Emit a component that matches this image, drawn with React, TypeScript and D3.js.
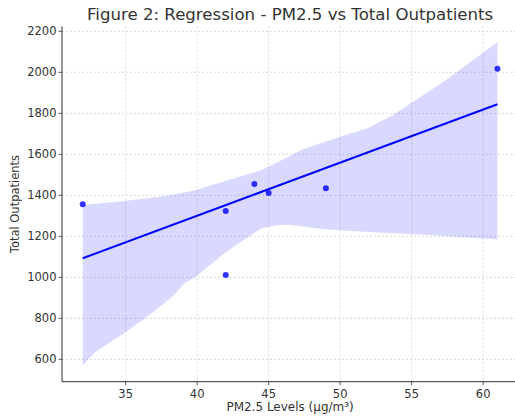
import React, { useRef, useEffect } from "react";
import * as d3 from "d3";

// observed points
export const pm25 = [32, 42, 42, 44, 45, 49, 61];
export const outpatients = [1357, 1323, 1011, 1455, 1411, 1435, 2017];

// confidence band edges
export const upperX = [32, 34.9, 38.2, 39.9, 42.2, 44.5, 46, 47.4, 50, 51.9, 53.7, 55.1, 57.4, 59.3, 61];
export const upperY = [1353, 1372, 1401, 1426, 1475, 1523, 1575, 1625, 1686, 1727, 1792, 1857, 1962, 2060, 2148];
export const lowerX = [32, 32.9, 34.9, 36.8, 38.4, 39.1, 39.9, 41.9, 43.6, 44.5, 45.7, 46.6, 48.8, 52.8, 56.3, 61];
export const lowerY = [570, 637, 727, 824, 914, 971, 1003, 1117, 1198, 1239, 1255, 1255, 1234, 1218, 1206, 1185];

export const xTicks = [35, 40, 45, 50, 55, 60];
export const yTicks = [600, 800, 1000, 1200, 1400, 1600, 1800, 2000, 2200];

const App = () => {
  const ref = useRef<SVGSVGElement>(null);

  useEffect(() => {
    const width = 515;
    const height = 416;
    const left = 62;
    const right = 518.2;
    const top = 26.4;
    const bottom = 381.7;

    const svg = d3.select(ref.current).attr("width", width).attr("height", height);
    svg.selectAll("*").remove();

    const x = d3.scaleLinear().domain([30.55, 62.45]).range([left, right]);
    const y = d3.scaleLinear().domain([491, 2224]).range([bottom, top]);

    const font = "DejaVu Sans, sans-serif";

    // grid
    const grid = svg.append("g");
    grid
      .selectAll("line.vx")
      .data(xTicks)
      .enter()
      .append("line")
      .attr("x1", (d) => x(d))
      .attr("x2", (d) => x(d))
      .attr("y1", top)
      .attr("y2", bottom)
      .attr("stroke", "#d0d0d0")
      .attr("stroke-width", 0.8)
      .attr("stroke-dasharray", "2,2");
    grid
      .selectAll("line.hy")
      .data(yTicks)
      .enter()
      .append("line")
      .attr("x1", left)
      .attr("x2", width)
      .attr("y1", (d) => y(d))
      .attr("y2", (d) => y(d))
      .attr("stroke", "#d0d0d0")
      .attr("stroke-width", 0.8)
      .attr("stroke-dasharray", "2,2");

    // confidence band
    const bandPts: [number, number][] = [
      ...upperX.map((d, i) => [x(d), y(upperY[i])] as [number, number]),
      ...lowerX
        .map((d, i) => [x(d), y(lowerY[i])] as [number, number])
        .reverse(),
    ];
    svg
      .append("path")
      .attr("d", d3.line()(bandPts) + "Z")
      .attr("fill", "#0000ff")
      .attr("fill-opacity", 0.15)
      .attr("stroke", "none");

    // regression line
    const mx = d3.mean(pm25) as number;
    const my = d3.mean(outpatients) as number;
    const sxy = d3.sum(pm25, (d, i) => (d - mx) * (outpatients[i] - my));
    const sxx = d3.sum(pm25, (d) => (d - mx) * (d - mx));
    const slope = sxy / sxx;
    const icept = my - slope * mx;
    const x0 = d3.min(pm25) as number;
    const x1 = d3.max(pm25) as number;
    svg
      .append("line")
      .attr("x1", x(x0))
      .attr("y1", y(icept + slope * x0))
      .attr("x2", x(x1))
      .attr("y2", y(icept + slope * x1))
      .attr("stroke", "#0000ff")
      .attr("stroke-width", 2);

    // points
    svg
      .selectAll("circle")
      .data(pm25)
      .enter()
      .append("circle")
      .attr("cx", (d) => x(d))
      .attr("cy", (d, i) => y(outpatients[i]))
      .attr("r", 3)
      .attr("fill", "#0000ff")
      .attr("fill-opacity", 0.8);

    // spines
    svg
      .append("line")
      .attr("x1", left)
      .attr("x2", left)
      .attr("y1", top)
      .attr("y2", bottom)
      .attr("stroke", "#333333")
      .attr("stroke-width", 1);
    svg
      .append("line")
      .attr("x1", left)
      .attr("x2", width)
      .attr("y1", bottom)
      .attr("y2", bottom)
      .attr("stroke", "#333333")
      .attr("stroke-width", 1);

    // x ticks
    const xt = svg
      .selectAll("g.xt")
      .data(xTicks)
      .enter()
      .append("g")
      .attr("transform", (d) => `translate(${x(d)},${bottom})`);
    xt.append("line").attr("y2", 3.5).attr("stroke", "#333333").attr("stroke-width", 0.8);
    xt.append("text")
      .attr("y", 16)
      .attr("text-anchor", "middle")
      .style("font-family", font)
      .style("font-size", "11.5px")
      .attr("fill", "#333333")
      .text((d) => d);

    // y ticks
    const yt = svg
      .selectAll("g.yt")
      .data(yTicks)
      .enter()
      .append("g")
      .attr("transform", (d) => `translate(${left},${y(d)})`);
    yt.append("line").attr("x2", -3.5).attr("stroke", "#333333").attr("stroke-width", 0.8);
    yt.append("text")
      .attr("x", -5.5)
      .attr("dy", "0.35em")
      .attr("text-anchor", "end")
      .style("font-family", font)
      .style("font-size", "11.5px")
      .attr("fill", "#333333")
      .text((d) => d);

    // labels
    svg
      .append("text")
      .attr("x", (left + right) / 2)
      .attr("y", 411)
      .attr("text-anchor", "middle")
      .style("font-family", font)
      .style("font-size", "12px")
      .attr("fill", "#333333")
      .text("PM2.5 Levels (µg/m³)");

    svg
      .append("text")
      .attr("transform", `translate(19,${(top + bottom) / 2}) rotate(-90)`)
      .attr("text-anchor", "middle")
      .style("font-family", font)
      .style("font-size", "11.5px")
      .attr("fill", "#333333")
      .text("Total Outpatients");

    svg
      .append("text")
      .attr("x", (left + right) / 2)
      .attr("y", 20)
      .attr("text-anchor", "middle")
      .style("font-family", font)
      .style("font-size", "16.6px")
      .attr("fill", "#333333")
      .text("Figure 2: Regression - PM2.5 vs Total Outpatients");
  }, []);

  return (
    <svg
      ref={ref}
      style={{ position: "absolute", left: 0, top: 0, background: "#ffffff" }}
    ></svg>
  );
};

export default App;
